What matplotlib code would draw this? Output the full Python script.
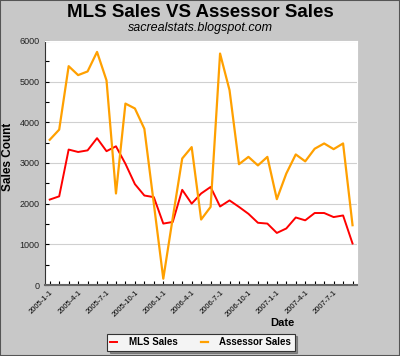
import matplotlib
matplotlib.use("Agg")
import matplotlib.pyplot as plt
import numpy as np
import pandas as pd
from matplotlib.patches import Rectangle

months = pd.date_range("2005-01-01", periods=33, freq="MS")
mls_sales = [2100, 2180, 3330, 3270, 3310, 3610, 3290, 3410, 2980, 2480, 2200,
             2160, 1510, 1550, 2340, 2000, 2250, 2410, 1930, 2080, 1920, 1750,
             1530, 1510, 1280, 1390, 1660, 1590, 1770, 1770, 1670, 1710, 1020]
assessor_sales = [3570, 3820, 5380, 5160, 5250, 5730, 5030, 2250, 4460, 4340, 3840,
                  2000, 155, 1650, 3110, 3390, 1610, 1920, 5690, 4790, 2970, 3150,
                  2940, 3150, 2110, 2740, 3210, 3040, 3350, 3480, 3340, 3480, 1470]
tick_labels = [f"{d.year}-{d.month}-1" for d in months[::3]]

plt.rcParams['font.family'] = ['Liberation Sans', 'DejaVu Sans']

fig = plt.figure(figsize=(4.0, 3.56), dpi=100, facecolor="#c8c8c8")
fig.patches.append(Rectangle((0, 0), 1, 1, transform=fig.transFigure, fill=False,
                             edgecolor="#555555", linewidth=1.5))
ax = fig.add_axes([0.1125, 0.1994, 0.7795, 0.6856])
ax.set_facecolor("white")

x = np.arange(len(months))
ax.plot(x, mls_sales, color="#ff0000", lw=1.4, label="MLS Sales")
ax.plot(x, assessor_sales, color="#ffa000", lw=1.6, label="Assessor Sales")

ax.set_xlim(-0.5, 32.45)
ax.set_ylim(0, 6000)
ax.set_yticks(np.arange(0, 6001, 1000))
ax.set_yticks(np.arange(500, 6000, 1000), minor=True)
ax.yaxis.grid(True, which="major", color="#d0d0d0", lw=0.8)
ax.set_axisbelow(True)
ax.set_xticks(x, minor=True)
ax.set_xticks(x[::3])
ax.set_xticklabels(tick_labels, rotation=45, ha="right", va="top",
                   rotation_mode="anchor", fontsize=5.5)
for lab in ax.get_yticklabels():
    lab.set_fontsize(6.5)
    lab.set_color("#222222")
ax.tick_params(axis="both", which="both", direction="in", length=3, width=0.8,
               color="black")
ax.tick_params(axis="y", which="major", pad=4)
ax.tick_params(axis="x", which="major", pad=3)
for s in ["top", "right"]:
    ax.spines[s].set_color("white")
ax.spines["left"].set_color("#333333")
ax.spines["bottom"].set_color("#666666")
ax.spines["bottom"].set_linewidth(1.5)

fig.text(0.5, 0.966, "MLS Sales VS Assessor Sales", ha="center", va="center",
         fontsize=13.5, fontweight="bold")
fig.text(0.5, 0.922, "sacrealstats.blogspot.com", ha="center", va="center",
         fontsize=9, style="italic")
fig.text(0.019, 0.559, "Sales Count", rotation=90, ha="center", va="center",
         fontsize=8.5, fontweight="bold")
fig.text(0.706, 0.093, "Date", ha="center", va="center", fontsize=8, fontweight="bold")

leg = fig.legend(loc="center", bbox_to_anchor=(0.502, 0.039), ncol=2,
                 frameon=True, fancybox=False, shadow=True,
                 handlelength=0.7, columnspacing=2.4, borderpad=0.35,
                 handletextpad=1.2, prop={"weight": "bold", "size": 7})
leg.get_frame().set_edgecolor("#333333")
leg.get_frame().set_facecolor("#f4f4f4")
leg.get_frame().set_linewidth(0.8)

fig.savefig("out.png", dpi=100, facecolor=fig.get_facecolor())
